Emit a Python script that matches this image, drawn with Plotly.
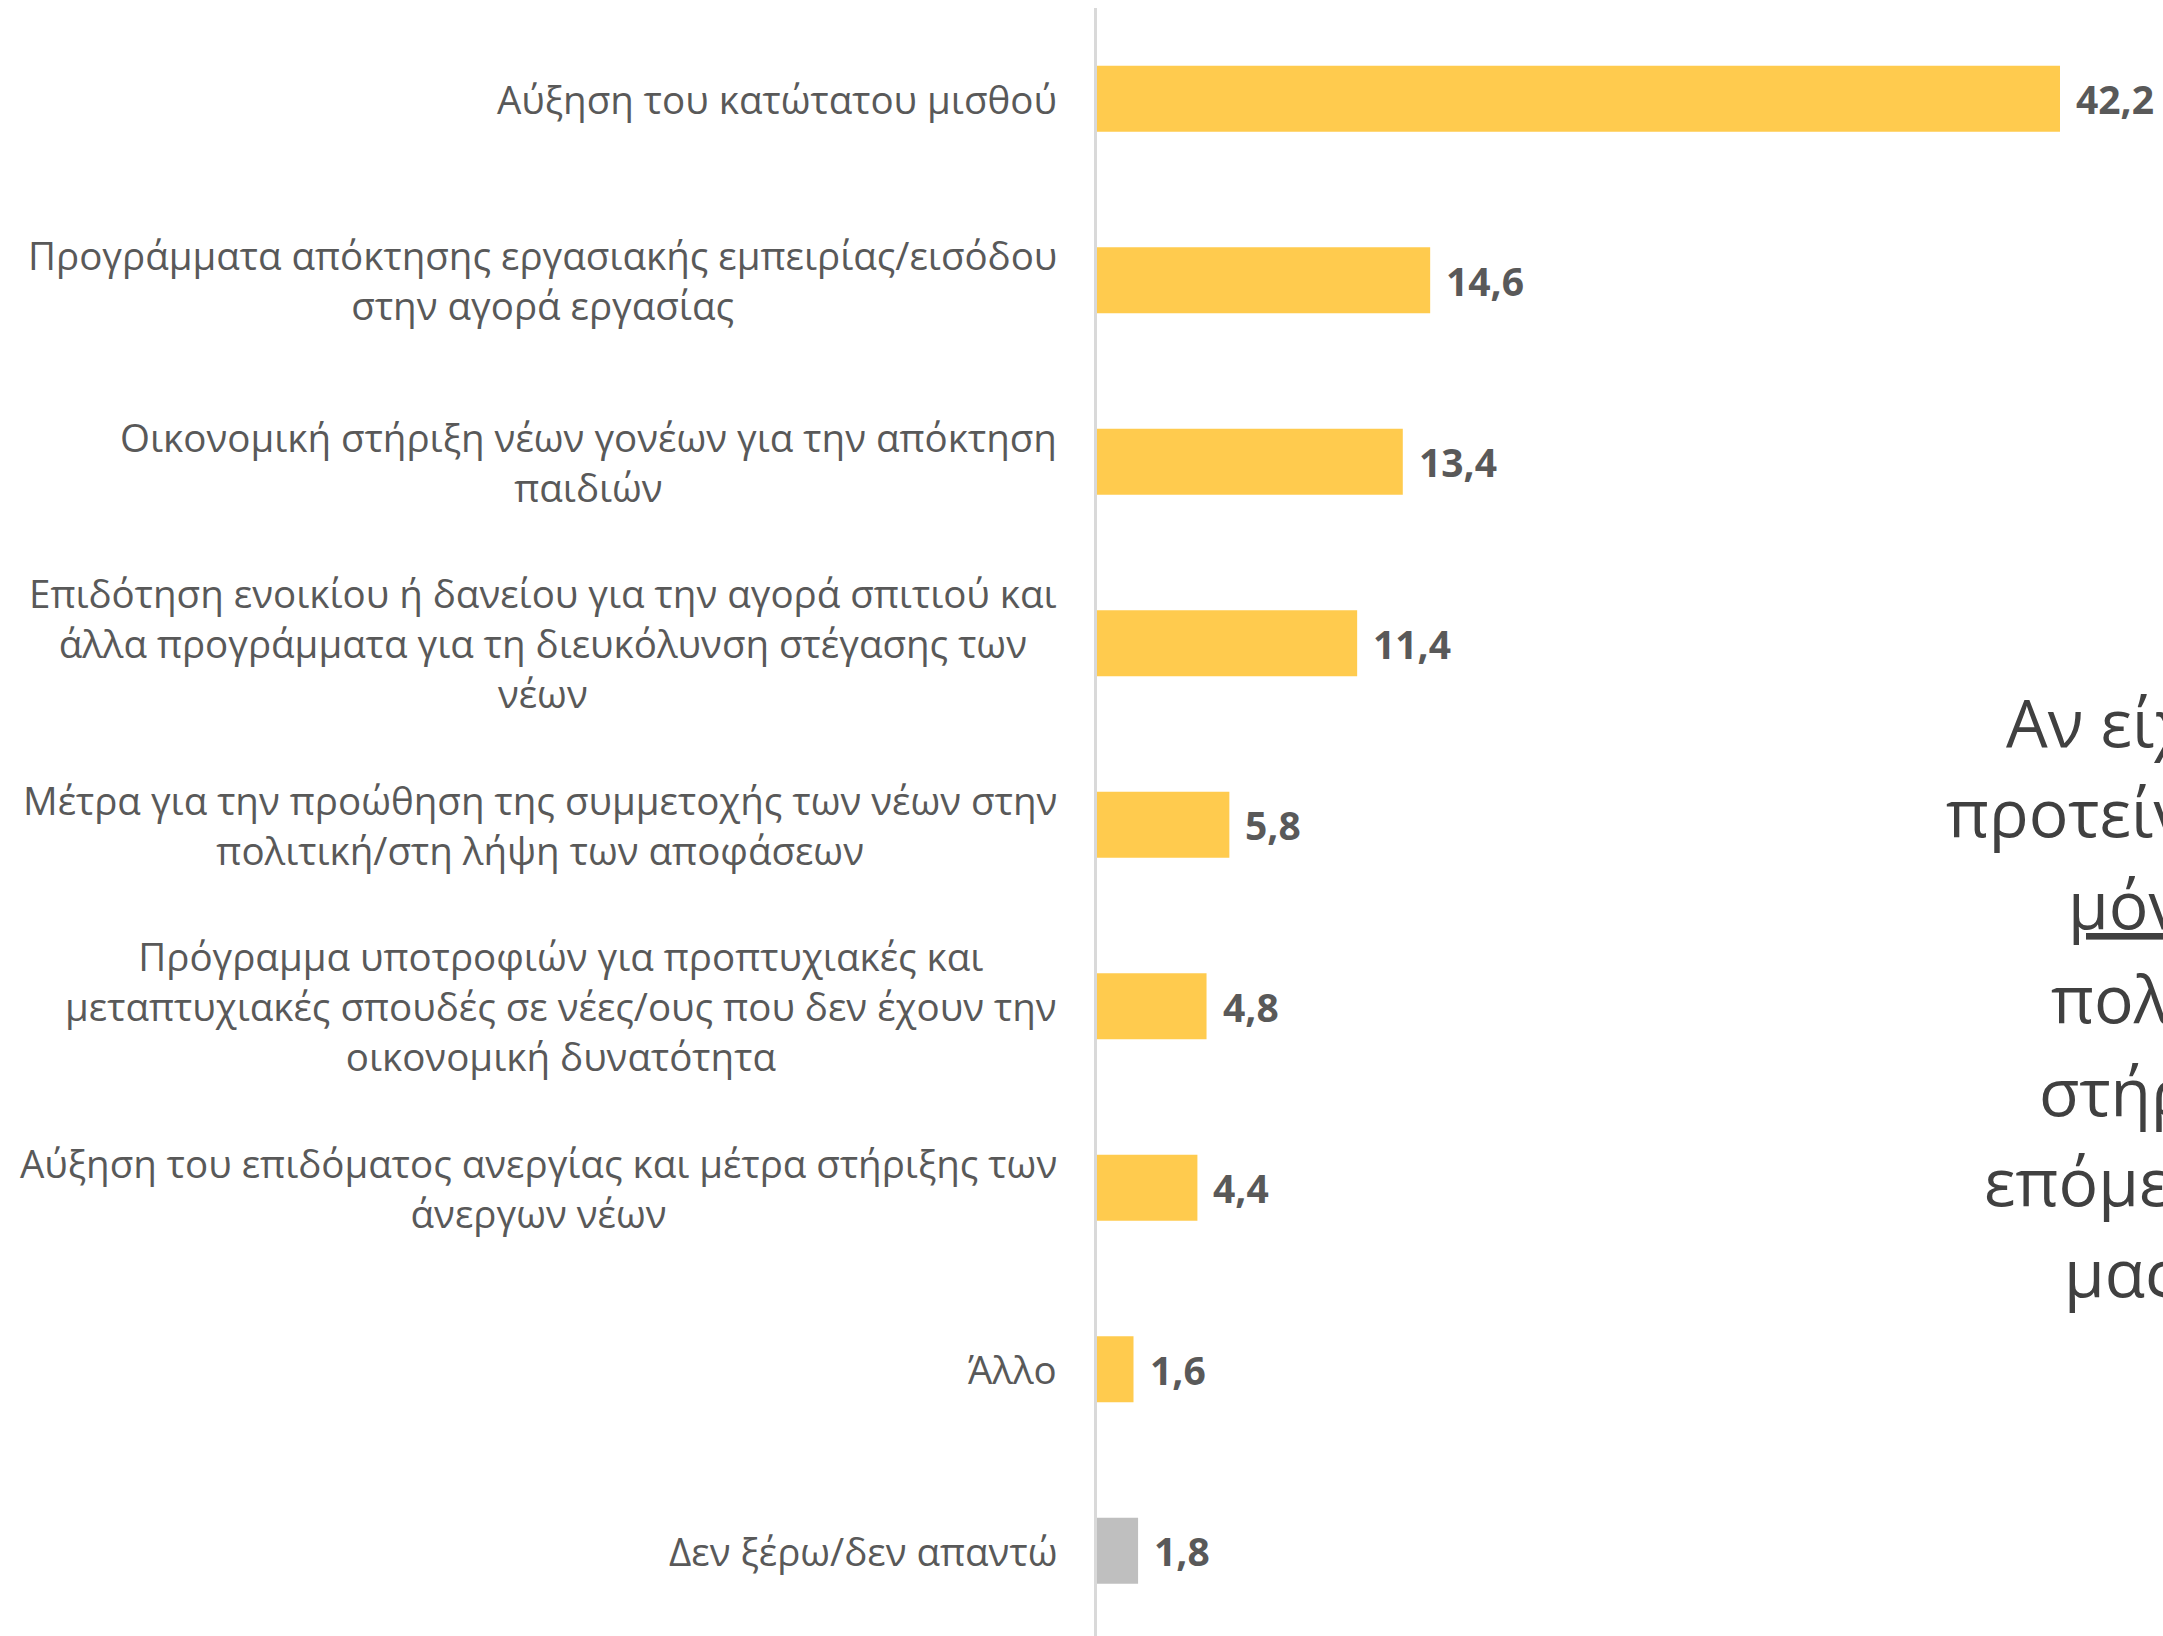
import plotly.graph_objects as go

categories = [
    "Αύξηση του κατώτατου μισθού",
    "Προγράμματα απόκτησης εργασιακής εμπειρίας/εισόδου<br>στην αγορά εργασίας",
    "Οικονομική στήριξη νέων γονέων για την απόκτηση<br>παιδιών",
    "Επιδότηση ενοικίου ή δανείου για την αγορά σπιτιού και<br>άλλα προγράμματα για τη διευκόλυνση στέγασης των<br>νέων",
    "Μέτρα για την προώθηση της συμμετοχής των νέων στην<br>πολιτική/στη λήψη των αποφάσεων",
    "Πρόγραμμα υποτροφιών για προπτυχιακές και<br>μεταπτυχιακές σπουδές σε νέες/ους που δεν έχουν την<br>οικονομική δυνατότητα",
    "Αύξηση του επιδόματος ανεργίας και μέτρα στήριξης των<br>άνεργων νέων",
    "Άλλο",
    "Δεν ξέρω/δεν απαντώ",
]
values = [42.2, 14.6, 13.4, 11.4, 5.8, 4.8, 4.4, 1.6, 1.8]
bar_colors = ["#FFCB4E"] * 8 + ["#BFBFBF"]

side_lines = [
    "Αν είχατε τη δυνατότητα",
    "προτείνετε στην",
    "<u>μόνο μία</u>",
    "πολιτική για",
    "στήριξη των",
    "επόμενα χρόνια",
    "μας",
]

W, H = 2163, 1636
ML, MR, MT, MB = 1097, 0, 8, 0

fig = go.Figure()
fig.add_trace(go.Bar(
    y=categories, x=values, orientation="h",
    marker=dict(color=bar_colors, line=dict(width=0)),
    width=0.364, hoverinfo="skip",
))

annotations = []
for c in categories:
    annotations.append(dict(
        x=0, y=c, xref="x", yref="y", text=c, showarrow=False,
        xanchor="right", yanchor="middle", align="center", xshift=-38,
        font=dict(family="Open Sans", size=38.5, color="#595959"),
    ))
for c, v in zip(categories, values):
    annotations.append(dict(
        x=v, y=c, xref="x", yref="y", text=f"{v:.1f}".replace(".", ","),
        showarrow=False, xanchor="left", yanchor="middle", xshift=14,
        font=dict(family="Open Sans", size=39, color="#595959", weight="bold"),
    ))

# side question text (cut by the right edge of the picture, as in the reference)
side_x = [2004, 1944, 2066, 2049, 2037, 1982, 2062]
side_y = [721, 811, 903, 997, 1090, 1180, 1271]
for t, px, py in zip(side_lines, side_x, side_y):
    annotations.append(dict(
        x=(px - ML) / (W - ML - MR), y=(H - MB - py) / (H - MT - MB),
        xref="paper", yref="paper", text=t, showarrow=False,
        xanchor="left", yanchor="middle",
        font=dict(family="Open Sans", size=66, color="#404040"),
    ))

fig.update_layout(
    width=W, height=H,
    margin=dict(l=ML, r=MR, t=MT, b=MB, pad=0),
    paper_bgcolor="white", plot_bgcolor="white",
    showlegend=False,
    separators=",.",
    annotations=annotations,
    xaxis=dict(range=[0, (W - ML - MR) / 22.82], visible=False, fixedrange=True),
    yaxis=dict(range=[8.47, -0.5], showticklabels=False, showgrid=False,
               zeroline=False, showline=True, linecolor="#D9D9D9", linewidth=3,
               ticks="", fixedrange=True),
)

fig.write_html(
    "out.html",
    config={"displayModeBar": False},
    post_script="document.body.style.margin='0';document.body.style.overflow='hidden';",
)
